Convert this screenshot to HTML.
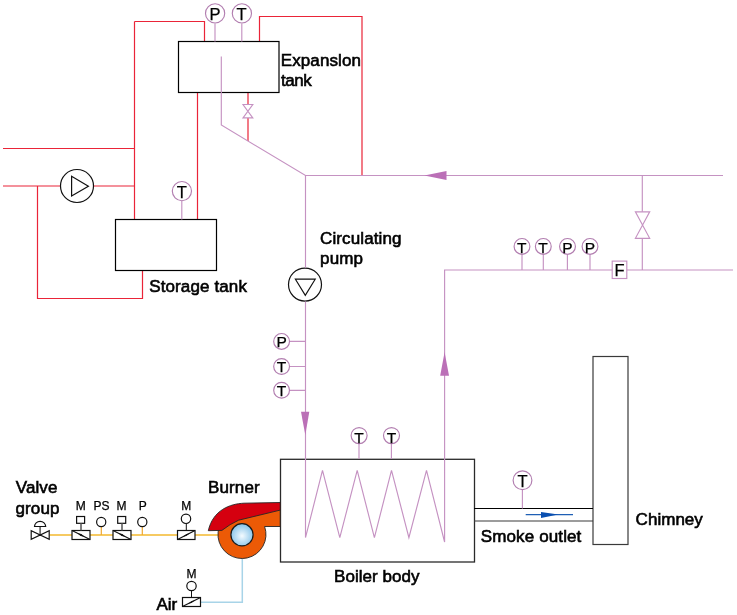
<!DOCTYPE html>
<html><head><meta charset="utf-8">
<style>
html,body{margin:0;padding:0;background:#fff;width:737px;height:615px;overflow:hidden}
svg{display:block;position:absolute;left:0;top:0;will-change:transform}
text{font-family:"Liberation Sans",sans-serif;fill:#000;stroke:#000;stroke-width:0.6px}
.gl text{stroke-width:0.25px}
</style></head>
<body>
<svg width="737" height="615" viewBox="0 0 737 615">
<!-- red hot water loop (left) -->
<g fill="none" stroke="#ea2438" stroke-width="1.2">
  <path d="M3 148.5H134.5"/>
  <path d="M3 186H60M94 186H134.5"/>
  <path d="M134.5 21.5V219.5"/>
  <path d="M134.5 21.5H204.5V41.5"/>
  <path d="M197.5 92.5V219.5"/>
  <path d="M37.5 186V298.5H142.5V270.5"/>
  <path d="M259.5 41.5V16.5H362V175.5"/>
  <path d="M248 92.5V104.5M248 118V141"/>
</g>
<!-- tanks -->
<g fill="none" stroke="#000" stroke-width="1.2">
  <rect x="178.5" y="41.5" width="100.5" height="51"/>
  <rect x="115.5" y="219.5" width="101" height="51"/>
  <rect x="280.5" y="459.3" width="194" height="102.7" stroke="#2a2a2a" stroke-width="1.3"/>
  <rect x="593" y="356.5" width="35" height="188" stroke="#3a3a3a" stroke-width="1.2"/>
  <path d="M474 508.5H593"/>
  <path d="M474 521H593" stroke="#3a3a3a" stroke-width="1.2"/>
</g>
<!-- pumps -->
<g fill="none" stroke="#111" stroke-width="1.2">
  <circle cx="77" cy="186" r="16.5"/>
  <path d="M71.6 176.3V196L88.4 186.2Z"/>
  <circle cx="305" cy="284.6" r="16.5"/>
  <path d="M295.4 279.2H315.2L305.3 295.4Z"/>
</g>
<!-- purple circuit -->
<g fill="none" stroke="#c592c2" stroke-width="1.15">
  <path d="M221.3 56.5V125L305.5 175.5H723"/>
  <path d="M305.5 175.5V267.8M305.5 301.5V537.6L322.5 470.4L339.8 537.6L357.2 470.4L374.4 537.6L391.5 470.4L408.9 537.6L426.5 470.4L444.6 542V270H733"/>
  <path d="M642.3 175.5V211.8M642.3 238.3V270"/>
  <path d="M635.4 211.8H649.7L635.4 238.3H649.7Z"/>
  <path d="M243 104.5H252.8L243 117.9H252.8Z"/>
  <rect x="612.2" y="261.1" width="14.6" height="17.4" fill="#fff"/>
  <!-- gauge stems -->
  <path d="M215 23.5V41.5M241.8 23.5V41.5M181.8 201V219.5"/>
  <path d="M522 254.7V270M543.3 254.7V270M567.4 254.7V270M590 254.7V270"/>
  <path d="M289.9 341.4H305.5M289.9 366.5H305.5M289.9 390.3H305.5"/>
  <path d="M359 443.7V459M391.4 443.7V459M522.4 490V508.5"/>
</g>
<!-- arrows -->
<g fill="#bb70b7" stroke="none">
  <path d="M424.4 175.5L446.5 171V180Z"/>
  <path d="M305.3 435L301 411.8H309.3Z"/>
  <path d="M444.6 352L440.2 375.7H449Z"/>
</g>
<!-- gauges -->
<g fill="#fff" stroke="#b27eb0" stroke-width="1.15">
  <circle cx="215.1" cy="13.4" r="9.6"/>
  <circle cx="241.9" cy="13.4" r="9.6"/>
  <circle cx="181.9" cy="191.1" r="9.6"/>
  <circle cx="522" cy="246.4" r="7.9"/>
  <circle cx="543.3" cy="246.4" r="7.9"/>
  <circle cx="567.5" cy="246.4" r="7.9"/>
  <circle cx="590" cy="246.4" r="7.9"/>
  <circle cx="281.6" cy="341.4" r="7.9"/>
  <circle cx="281.6" cy="366.5" r="7.9"/>
  <circle cx="281.6" cy="390.3" r="7.9"/>
  <circle cx="359.1" cy="435.6" r="8"/>
  <circle cx="391.5" cy="435.6" r="8"/>
  <circle cx="522.5" cy="480.3" r="9.4"/>
</g>
<g font-size="15.5" text-anchor="middle" class="gl">
  <text x="215.1" y="19.9" font-size="16.5">P</text>
  <text x="241.6" y="19.9" font-size="16.5">T</text>
  <text x="181.9" y="197.8" font-size="16.5">T</text>
  <text x="521.7" y="252.9">T</text>
  <text x="543.1" y="252.9">T</text>
  <text x="567.4" y="252.9">P</text>
  <text x="589.9" y="252.9">P</text>
  <text x="281.6" y="347.2">P</text>
  <text x="281.6" y="372.4">T</text>
  <text x="281.6" y="396.3">T</text>
  <text x="359.1" y="442.7">T</text>
  <text x="391.5" y="442.7">T</text>
  <text x="522.6" y="486.5" font-size="16.5">T</text>
  <text x="619.6" y="275.8" font-size="16.5">F</text>
</g>
<!-- smoke arrow -->
<path d="M525.7 514.6H573" stroke="#1f5fb5" stroke-width="1.3"/>
<path d="M541 511.9L558.3 514.6L541 518Z" fill="#0a4fb0"/>
<!-- gas line -->
<path d="M49.6 535H218.5" stroke="#f6ca62" stroke-width="2"/>
<path d="M101.3 526.5V535M142.3 526.5V535" stroke="#f0a830" stroke-width="1.2"/>
<!-- air line -->
<path d="M242.3 558V602.2H201" fill="none" stroke="#a8d4e8" stroke-width="1.5"/>
<!-- valve group symbols -->
<g fill="#fff" stroke="#111" stroke-width="1.2">
  <path d="M31.2 530.6V539.2L49.2 530.6V539.2Z"/>
  <path d="M40.1 535V526.5" fill="none" stroke="#555" stroke-width="1.5"/>
  <path d="M34.5 526.5H45.7A5.6 5.2 0 0 0 34.5 526.5Z"/>
  <rect x="38.7" y="534.2" width="2.8" height="1.7" fill="#111" stroke="none"/>
  <rect x="72" y="530.5" width="18" height="9"/>
  <rect x="76.6" y="516.5" width="8" height="6.8"/>
  <path d="M81 523.3V530.5" stroke="#555" stroke-width="1.5"/>
  <path d="M72 530.5L90 539.5"/>
  <path d="M77.5 533.2L80.6 536.1L84.5 536.8L81.4 533.9Z" fill="#111" stroke="none"/>
  <circle cx="101.2" cy="522" r="4.6"/>
  <rect x="113" y="530.5" width="18" height="9"/>
  <rect x="117.7" y="516.5" width="8" height="6.8"/>
  <path d="M122 523.3V530.5" stroke="#555" stroke-width="1.5"/>
  <path d="M113 530.5L131 539.5"/>
  <path d="M118.5 533.2L121.6 536.1L125.5 536.8L122.4 533.9Z" fill="#111" stroke="none"/>
  <circle cx="142.3" cy="522" r="4.6"/>
  <rect x="177.5" y="530.5" width="17.5" height="9"/>
  <path d="M177.5 539.5L195 530.5"/>
  <path d="M182.8 536.8L186.2 536L190 533.2L186.6 534Z" fill="#111" stroke="none"/>
  <circle cx="186" cy="518.8" r="4.7"/>
  <path d="M186.3 523.5V530.5" stroke-width="1"/>
  <rect x="182.5" y="597.5" width="18" height="9"/>
  <path d="M182.5 606.5L200.5 597.5"/>
  <path d="M188 603.8L191.4 603L195.2 600.2L191.8 601Z" fill="#111" stroke="none"/>
  <circle cx="191.5" cy="586" r="4.7"/>
  <path d="M191.5 590.7V597.5" stroke-width="1"/>
</g>
<!-- burner -->
<g stroke="#262626" stroke-width="0.9">
  <path d="M264.6 526.5A24 24 0 1 1 242 510.5L280.2 505V526.5Z" fill="#ec5a06"/>
  <path d="M280.2 502.5L244 503.2C230 503.8 213 510 208.3 530.7L221.9 530.4Q230 524 238.6 520.2L280.2 510.1Z" fill="#d5000f"/>
</g>
<defs>
  <radialGradient id="ball" cx="0.5" cy="0.55" r="0.55">
    <stop offset="0" stop-color="#f4fbff"/>
    <stop offset="1" stop-color="#84c2e8"/>
  </radialGradient>
</defs>
<circle cx="242" cy="534.8" r="11.1" fill="url(#ball)" stroke="#1a1a1a" stroke-width="1.2"/>
<!-- labels -->
<g font-size="17" letter-spacing="0.12">
  <text x="280.7" y="66.1">Expanslon</text>
  <text x="280.9" y="86.3" letter-spacing="-0.4">tank</text>
  <text x="320" y="243.6">Circulating</text>
  <text x="320.1" y="263.6">pump</text>
  <text x="149.2" y="291.6">Storage tank</text>
  <text x="208" y="492.9">Burner</text>
  <text x="15.7" y="493.1">Valve</text>
  <text x="15.5" y="513.9">group</text>
  <text x="334.1" y="582.3" letter-spacing="0.03">Boiler body</text>
  <text x="480.8" y="542.1">Smoke outlet</text>
  <text x="635.6" y="525.3" letter-spacing="0.03">Chimney</text>
  <text x="156.5" y="610.3" letter-spacing="0">Air</text>
</g>
<g font-size="12" text-anchor="middle" class="gl">
  <text x="80.8" y="509.7">M</text>
  <text x="101.5" y="509.7">PS</text>
  <text x="121.5" y="509.7">M</text>
  <text x="142.7" y="509.7">P</text>
  <text x="186.2" y="509.8">M</text>
  <text x="191.5" y="578.4">M</text>
</g>
</svg>
</body></html>
